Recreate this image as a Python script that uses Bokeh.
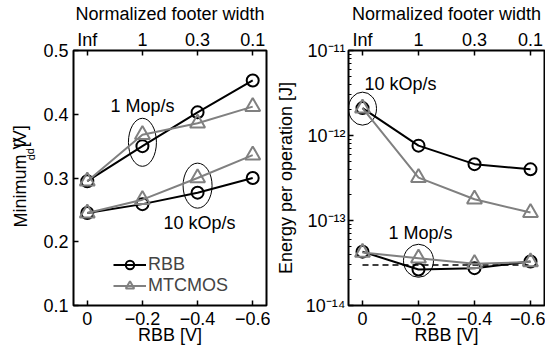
from bokeh.plotting import figure
from bokeh.models import (Range1d, LinearAxis, FixedTicker, Label,
                          Legend, LegendItem)
from bokeh.layouts import row
from bokeh.embed import file_html
from bokeh.resources import INLINE

FONT = "Liberation Sans"
GRAY = "#808080"

# ---------------- data ----------------
rbb_v = [0, -0.2, -0.4, -0.6]
rbb_tick_labels = ["0", "\u22120.2", "\u22120.4", "\u22120.6"]
footer_labels = ["Inf", "1", "0.3", "0.1"]
vdd_ticks = [0.1, 0.2, 0.3, 0.4, 0.5]

# Minimum Vdd [V]
vmin_rbb_1M = [0.295, 0.350, 0.403, 0.453]
vmin_mt_1M = [0.295, 0.368, 0.386, 0.412]
vmin_rbb_10k = [0.245, 0.259, 0.277, 0.300]
vmin_mt_10k = [0.245, 0.266, 0.300, 0.336]

# Energy per operation [J]
e_rbb_10k = [2.1e-12, 7.6e-13, 4.6e-13, 4.0e-13]
e_mt_10k = [2.1e-12, 3.2e-13, 1.78e-13, 1.24e-13]
e_rbb_1M = [4.3e-14, 2.65e-14, 2.75e-14, 3.3e-14]
e_mt_1M = [4.2e-14, 3.6e-14, 3.1e-14, 3.25e-14]
e_floor_x = [0, -0.6]
e_floor = [3.0e-14, 3.0e-14]
e_ticks = [1e-14, 1e-13, 1e-12, 1e-11]
e_tick_labels = ["10\u207b\u00b9\u2074", "10\u207b\u00b9\u00b3",
                 "10\u207b\u00b9\u00b2", "10\u207b\u00b9\u00b9"]
e_minor = [k * 10.0 ** e for e in (-14, -13, -12) for k in range(2, 10)]

# annotations (ellipse centres and rate labels)
vdd_ell_x = [-0.2, -0.4]
vdd_ell_y = [0.356, 0.288]
vdd_txt = ["1 Mop/s", "10 kOp/s"]
vdd_txt_x = [-0.2, -0.407]
vdd_txt_y = [0.4125, 0.2297]
e_ell_x = [0.0, -0.2]
e_ell_y = [2.07e-12, 3.36e-14]
e_txt = ["10 kOp/s", "1 Mop/s"]
e_txt_x = [-0.136, -0.207]
e_txt_y = [4.0e-12, 7.2e-14]


def style(p):
    p.outline_line_color = "black"
    p.outline_line_width = 2
    p.outline_line_alpha = 1
    p.xgrid.visible = False
    p.ygrid.visible = False
    p.background_fill_color = "white"
    p.border_fill_color = "white"


def style_axis(ax, standoff=5, label=None, label_standoff=5):
    ax.axis_line_color = None
    ax.major_tick_in = 5
    ax.major_tick_out = 0
    ax.major_tick_line_width = 1.5
    ax.minor_tick_in = 0
    ax.minor_tick_out = 0
    ax.major_label_text_font = FONT
    ax.major_label_text_font_size = "18px"
    ax.major_label_text_color = "black"
    ax.major_label_standoff = standoff
    if label is not None:
        ax.axis_label = label
        ax.axis_label_text_font = FONT
        ax.axis_label_text_font_size = "18px"
        ax.axis_label_text_font_style = "normal"
        ax.axis_label_text_color = "black"
        ax.axis_label_standoff = label_standoff


def lbl(p, text, x, y, size="18px", angle=0.0, align="center", baseline="middle"):
    p.add_layout(Label(x=x, y=y, text=text, text_font=FONT, text_font_size=size,
                       angle=angle, text_align=align, text_baseline=baseline,
                       text_color="black"))


XR = (0.05, -0.65)

# ---------------- strip holding the y title of the left panel ----------------
strip = figure(width=40, height=353, x_range=Range1d(0, 40), y_range=Range1d(0, 353),
               output_backend="svg", toolbar_location=None,
               x_axis_location=None, y_axis_location=None,
               min_border_left=0, min_border_right=0, min_border_top=0,
               min_border_bottom=0)
strip.outline_line_color = None
strip.xgrid.visible = False
strip.ygrid.visible = False
lbl(strip, "Minimum V", 10, 108, angle=1.5708, align="left", baseline="top")
lbl(strip, "dd", 24, 201, size="11px", angle=1.5708, align="left", baseline="top")
lbl(strip, "[V]", 10, 219, angle=1.5708, align="left", baseline="top")

# ---------------- left panel ----------------
p1 = figure(width=230, height=353, x_range=Range1d(*XR), y_range=Range1d(0.1, 0.5),
            output_backend="svg", toolbar_location=None,
            min_border_left=30, min_border_right=4, min_border_top=49,
            min_border_bottom=48)
style(p1)
p1.xaxis.ticker = FixedTicker(ticks=rbb_v)
p1.xaxis.major_label_overrides = dict(zip(rbb_v, rbb_tick_labels))
style_axis(p1.xaxis[0], standoff=6, label="RBB [V]", label_standoff=-3)
p1.yaxis.ticker = FixedTicker(ticks=vdd_ticks)
style_axis(p1.yaxis[0], standoff=5)

top1 = LinearAxis(ticker=FixedTicker(ticks=rbb_v),
                  major_label_overrides=dict(zip(rbb_v, footer_labels)))
style_axis(top1, standoff=1, label="Normalized footer width", label_standoff=3)
p1.add_layout(top1, "above")

p1.ellipse(x=vdd_ell_x, y=vdd_ell_y, width=[28, 29], height=[48, 45],
           width_units="screen", height_units="screen",
           fill_color=None, line_color="black", line_width=1)

r_line = p1.line(rbb_v, vmin_rbb_1M, line_color="black", line_width=2)
r_mark = p1.scatter(rbb_v, vmin_rbb_1M, marker="circle", size=12, fill_color=None,
                    line_color="black", line_width=2)
p1.line(rbb_v, vmin_rbb_10k, line_color="black", line_width=2)
p1.scatter(rbb_v, vmin_rbb_10k, marker="circle", size=12, fill_color=None,
           line_color="black", line_width=2)
m_line = p1.line(rbb_v, vmin_mt_1M, line_color=GRAY, line_width=2)
m_mark = p1.scatter(rbb_v, vmin_mt_1M, marker="triangle", size=15, fill_color=None,
                    line_color=GRAY, line_width=2)
p1.line(rbb_v, vmin_mt_10k, line_color=GRAY, line_width=2)
p1.scatter(rbb_v, vmin_mt_10k, marker="triangle", size=15, fill_color=None,
           line_color=GRAY, line_width=2)

for t, x, y in zip(vdd_txt, vdd_txt_x, vdd_txt_y):
    lbl(p1, t, x, y)

legend = Legend(items=[LegendItem(label="RBB", renderers=[r_line, r_mark]),
                       LegendItem(label="MTCMOS", renderers=[m_line, m_mark])],
                location=(40, 9), orientation="vertical",
                glyph_width=33, glyph_height=21, label_height=21,
                label_standoff=2, spacing=0, padding=0, margin=0,
                border_line_alpha=0, background_fill_alpha=0,
                label_text_font=FONT, label_text_font_size="18px")
p1.add_layout(legend)

# ---------------- right panel ----------------
p2 = figure(width=275, height=353, x_range=Range1d(*XR), y_range=Range1d(1e-14, 1e-11),
            y_axis_type="log", output_backend="svg", toolbar_location=None,
            min_border_left=78, min_border_right=1, min_border_top=49,
            min_border_bottom=48)
style(p2)
p2.xaxis.ticker = FixedTicker(ticks=rbb_v)
p2.xaxis.major_label_overrides = dict(zip(rbb_v, rbb_tick_labels))
style_axis(p2.xaxis[0], standoff=6, label="RBB [V]", label_standoff=-3)
p2.yaxis.ticker = FixedTicker(ticks=e_ticks, minor_ticks=e_minor)
p2.yaxis.major_label_overrides = dict(zip(e_ticks, e_tick_labels))
style_axis(p2.yaxis[0], standoff=3, label="Energy per operation [J]", label_standoff=7)
p2.yaxis.minor_tick_in = 3
p2.yaxis.minor_tick_line_width = 1

top2 = LinearAxis(ticker=FixedTicker(ticks=rbb_v),
                  major_label_overrides=dict(zip(rbb_v, footer_labels)))
style_axis(top2, standoff=1, label="Normalized footer width", label_standoff=3)
p2.add_layout(top2, "above")

p2.ellipse(x=e_ell_x, y=e_ell_y, width=[28, 30], height=[33, 33],
           width_units="screen", height_units="screen",
           fill_color=None, line_color="black", line_width=1)

p2.line(e_floor_x, e_floor, line_color="black", line_width=1.5, line_dash="6 4")
for ys in (e_rbb_10k, e_rbb_1M):
    p2.line(rbb_v, ys, line_color="black", line_width=2)
    p2.scatter(rbb_v, ys, marker="circle", size=12, fill_color=None,
               line_color="black", line_width=2)
for ys in (e_mt_10k, e_mt_1M):
    p2.line(rbb_v, ys, line_color=GRAY, line_width=2)
    p2.scatter(rbb_v, ys, marker="triangle", size=15, fill_color=None,
               line_color=GRAY, line_width=2)

for t, x, y in zip(e_txt, e_txt_x, e_txt_y):
    lbl(p2, t, x, y)

layout = row(strip, p1, p2)
open("out.html", "w").write(file_html(layout, INLINE))
